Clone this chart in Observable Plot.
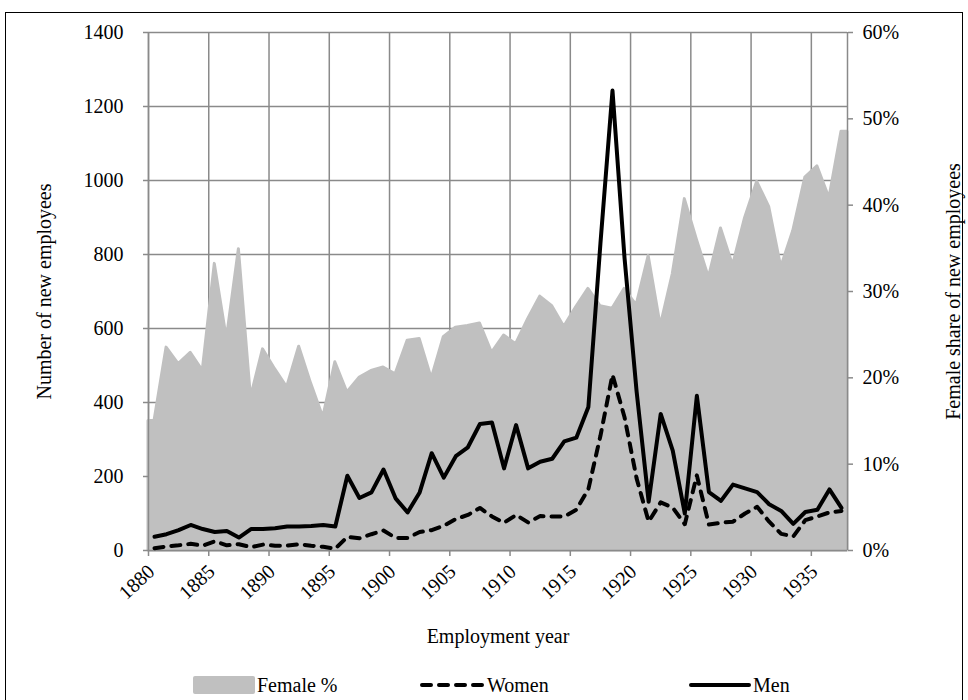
<!DOCTYPE html>
<html><head><meta charset="utf-8">
<script src="https://cdn.jsdelivr.net/npm/d3@7"></script>
<script src="https://cdn.jsdelivr.net/npm/@observablehq/plot@0.6"></script>
<style>
body{margin:0;background:#fff;font-family:"Liberation Serif","Times New Roman",serif;}
#wrap{position:relative;width:968px;height:700px;overflow:hidden;background:#fff;}
#frame{position:absolute;left:5px;top:12px;width:958px;height:700px;border:1.5px solid #000;box-sizing:border-box;}
#chart{position:absolute;left:0;top:0;}
#legend{position:absolute;top:670px;left:0;width:968px;height:26px;font-size:20px;color:#000;}
.li{position:absolute;top:0;height:26px;line-height:26px;white-space:nowrap;}
</style></head><body>
<div id="wrap">
  <div id="frame"></div>
  <div id="chart"></div>
  <div id="legend"></div>
</div>
<script>
const years = [1880,1881,1882,1883,1884,1885,1886,1887,1888,1889,1890,1891,1892,1893,1894,1895,1896,1897,1898,1899,1900,1901,1902,1903,1904,1905,1906,1907,1908,1909,1910,1911,1912,1913,1914,1915,1916,1917,1918,1919,1920,1921,1922,1923,1924,1925,1926,1927,1928,1929,1930,1931,1932,1933,1934,1935,1936,1937];
const men = [37,44,55,69,58,50,53,35,58,58,60,65,65,66,69,65,202,142,157,219,141,103,157,263,197,255,279,342,346,222,339,222,240,248,295,305,388,830,1243,790,430,132,369,270,100,418,158,134,178,168,158,125,107,72,104,110,165,115];
const women = [6,11,14,18,13,25,14,17,9,16,13,13,17,13,10,5,37,33,44,54,34,34,50,55,67,85,96,115,92,75,96,76,93,92,92,110,166,310,475,360,195,78,130,116,71,203,70,75,78,100,118,78,45,38,82,92,103,107];
const femalePct = [15,23.5,21.6,22.9,20.8,33.2,24.5,34.9,17.7,23.3,21,18.9,23.6,19.3,15.4,21.8,18.3,20,20.8,21.2,20.4,24.3,24.5,19.9,24.7,25.8,26,26.3,22.9,24.9,23.9,26.8,29.4,28.3,25.9,28.2,30.3,28.3,28,30.3,28.4,34.1,26,32,40.7,36,31.6,37.3,33,38.5,42.7,39.8,32.8,37,43.2,44.5,40.8,48.5];
const countTicks = [0,200,400,600,800,1000,1200,1400];
const pctTicks = [0,10,20,30,40,50,60];
const yearTicks = [1880,1885,1890,1895,1900,1905,1910,1915,1920,1925,1930,1935];
const seriesNames = ["Female %","Women","Men"];

const maxCount = countTicks[countTicks.length-1];
const maxPct = pctTicks[pctTicks.length-1];
const toCount = p => p * maxCount / maxPct;
const firstYear = years[0], endYear = years[years.length-1] + 1;

const lineData = years.map((yr,i)=>({x: yr + 0.5, men: men[i], women: women[i]}));
const areaData = [{x: firstYear, p: femalePct[0]}]
  .concat(years.map((yr,i)=>({x: yr + 0.5, p: femalePct[i]})))
  .concat([{x: endYear, p: femalePct[femalePct.length-1]}]);

const GRID = "#8a8a8a";
const FS = 20;
const chart = Plot.plot({
  width: 968, height: 660,
  marginLeft: 148, marginRight: 121, marginTop: 32, marginBottom: 110,
  x: {domain: [firstYear, endYear]},
  y: {domain: [0, maxCount]},
  style: {fontFamily: "'Liberation Serif','Times New Roman',serif", fontSize: "20px", color: "#000", background: "transparent", overflow: "visible"},
  marks: [
    Plot.gridY(countTicks, {stroke: GRID, strokeOpacity: 1, strokeWidth: 1.5}),
    Plot.gridX(yearTicks, {stroke: GRID, strokeOpacity: 1, strokeWidth: 1.5}),
    Plot.areaY(areaData, {x: "x", y: d => toCount(d.p), fill: "#c0c0c0", stroke: "#c0c0c0", strokeWidth: 3, strokeLinejoin: "round"}),
    Plot.ruleX([firstYear, endYear], {stroke: GRID, strokeWidth: 1.5}),
    Plot.ruleY([0], {stroke: GRID, strokeWidth: 1.5}),
    Plot.line(lineData, {x: "x", y: "women", stroke: "#000", strokeWidth: 4, strokeDasharray: "9,8", strokeLinecap: "round", strokeLinejoin: "round"}),
    Plot.line(lineData, {x: "x", y: "men", stroke: "#000", strokeWidth: 4, strokeLinecap: "round", strokeLinejoin: "round"}),
    Plot.axisY(countTicks, {anchor: "left", tickSize: 5, tickPadding: 20, stroke: GRID, strokeWidth: 1.5, fontSize: FS, tickFormat: d => String(d), label: "Number of new employees", labelAnchor: "center", labelOffset: 112, labelArrow: "none"}),
    Plot.axisY(pctTicks.map(toCount), {anchor: "right", tickSize: 5, tickPadding: 10, stroke: GRID, strokeWidth: 1.5, fontSize: FS, tickFormat: d => Math.round(d * maxPct / maxCount) + "%", label: "Female share of new employees", labelAnchor: "center", labelOffset: 112, labelArrow: "none"}),
    Plot.axisX(yearTicks, {anchor: "bottom", tickSize: 6, stroke: GRID, strokeWidth: 1.5, tickFormat: () => "", label: null}),
    Plot.axisX(yearTicks, {anchor: "bottom", tickSize: 0, tickPadding: 18, tickRotate: -43, dx: 3, fontSize: FS, tickFormat: d => String(d), label: "Employment year", labelAnchor: "center", labelOffset: 92, labelArrow: "none"})
  ]
});
document.getElementById("chart").appendChild(chart);

const legend = document.getElementById("legend");
const items = [
  {left: 193, name: seriesNames[0], sw: '<svg width="62" height="20" style="vertical-align:middle"><rect x="0" y="1" width="62" height="18" rx="2" fill="#c0c0c0"/></svg>'},
  {left: 419, name: seriesNames[1], sw: '<svg width="66" height="20" style="vertical-align:middle"><line x1="3" y1="10" x2="63" y2="10" stroke="#000" stroke-width="4" stroke-dasharray="9,8" stroke-linecap="round"/></svg>'},
  {left: 689, name: seriesNames[2], sw: '<svg width="62" height="20" style="vertical-align:middle"><line x1="2" y1="10" x2="60" y2="10" stroke="#000" stroke-width="4" stroke-linecap="round"/></svg>'}
];
for (const it of items) {
  const d = document.createElement("div");
  d.className = "li";
  d.style.left = it.left + "px";
  d.innerHTML = it.sw + '<span style="vertical-align:middle;margin-left:2px">' + it.name + '</span>';
  legend.appendChild(d);
}
</script>
</body></html>
